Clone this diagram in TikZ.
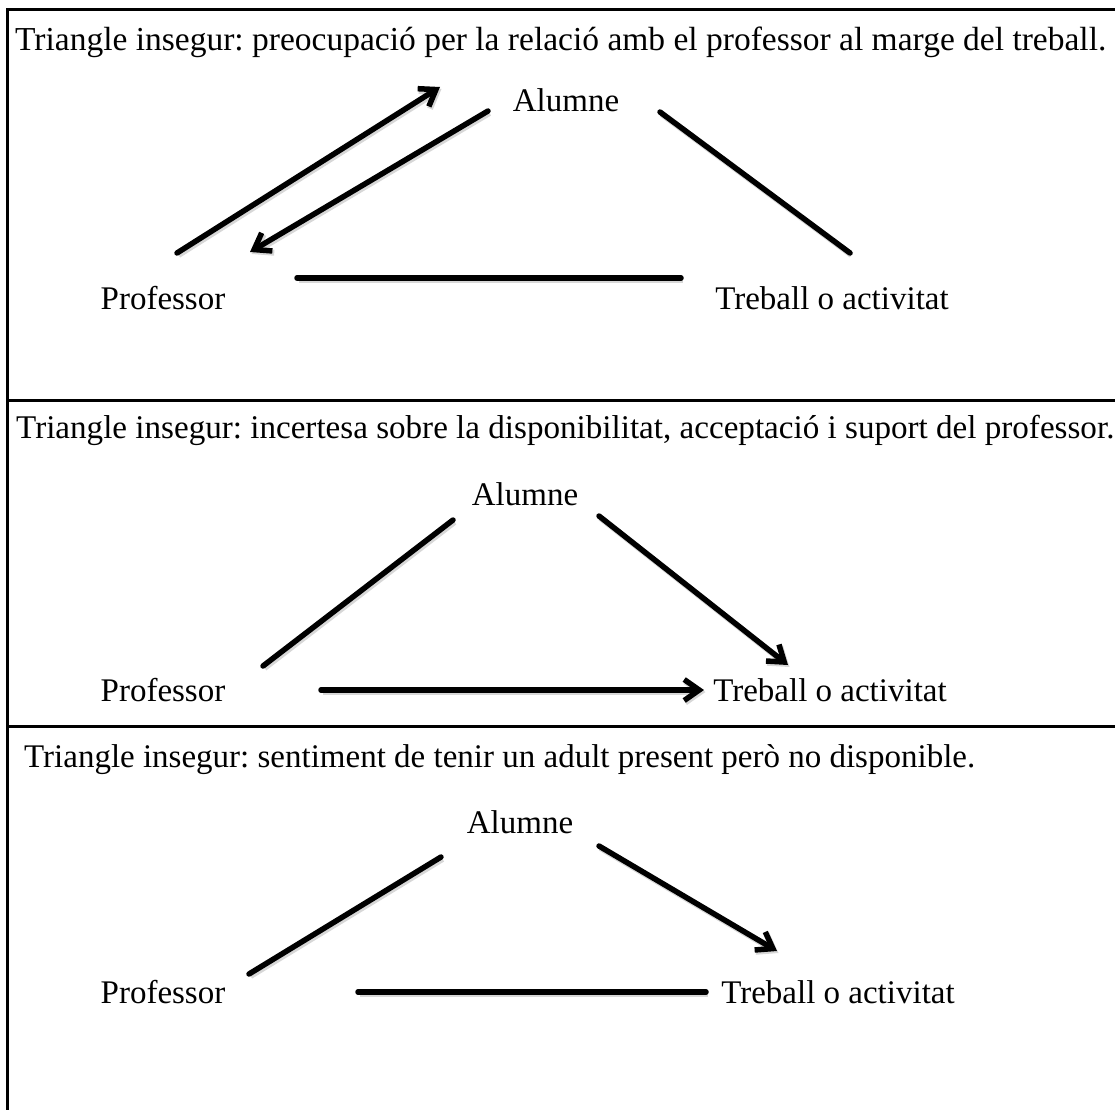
\documentclass[tikz,border=0pt]{standalone}
\usepackage{fontspec}
\setmainfont{Liberation Serif}
\usetikzlibrary{arrows.meta}
\frenchspacing
\begin{document}
\begin{tikzpicture}[x=1pt,y=-1pt,
  rule/.style={line width=3pt},
  link/.style={line width=5.5pt, line cap=round,
    preaction={draw=black!35, opacity=0.45, line width=6pt,
      transform canvas={shift={(1.5pt,-2pt)}}}},
  arrowlink/.style={link, -{Straight Barb[length=15pt,width=21pt]}},
  lbl/.style={font=\fontsize{33}{40}\selectfont, inner sep=0pt},
  heading/.style={lbl, anchor=west}]
\useasboundingbox (0,0) rectangle (1115,1110);

% table rules
\draw[rule] (1115,10) -- (7,10) -- (7,1110);
\draw[rule] (7,400) -- (1115,400);
\draw[rule] (7,726) -- (1115,726);

% ---------- row 1 ----------
\node[heading, font=\fontsize{33.5}{40}\selectfont] (h1) at (15,42) {Triangle insegur: preocupació per la relació amb el professor al marge del treball.};
\node[lbl] (al1) at (566,100) {Alumne};
\node[lbl] (pr1) at (163,298) {Professor};
\node[lbl] (tr1) at (832,298) {Treball o activitat};
\coordinate (p1a) at (177,253); \coordinate (p1b) at (440,87);
\coordinate (p1c) at (488,111); \coordinate (p1d) at (250,252);
\coordinate (p1e) at (660,112); \coordinate (p1f) at (850,253);
\coordinate (p1g) at (297,278); \coordinate (p1h) at (681,278);
\draw[arrowlink] (p1a) -- (p1b);
\draw[arrowlink] (p1c) -- (p1d);
\draw[link] (p1e) -- (p1f);
\draw[link] (p1g) -- (p1h);

% ---------- row 2 ----------
\node[heading, font=\fontsize{33.1}{40}\selectfont] (h2) at (16,430) {Triangle insegur: incertesa sobre la disponibilitat, acceptació i suport del professor.};
\node[lbl] (al2) at (525,494) {Alumne};
\node[lbl] (pr2) at (163,690) {Professor};
\node[lbl] (tr2) at (830,690) {Treball o activitat};
\coordinate (p2a) at (453,520); \coordinate (p2b) at (263,666);
\coordinate (p2c) at (599,516); \coordinate (p2d) at (788,665);
\coordinate (p2e) at (321,690); \coordinate (p2f) at (704,690);
\draw[link] (p2a) -- (p2b);
\draw[arrowlink] (p2c) -- (p2d);
\draw[arrowlink] (p2e) -- (p2f);

% ---------- row 3 ----------
\node[heading] (h3) at (24,760) {Triangle insegur: sentiment de tenir un adult present però no disponible.};
\node[lbl] (al3) at (520,822) {Alumne};
\node[lbl] (pr3) at (163,992) {Professor};
\node[lbl] (tr3) at (838,992) {Treball o activitat};
\coordinate (p3a) at (441,857); \coordinate (p3b) at (249,974);
\coordinate (p3c) at (599,846); \coordinate (p3d) at (777,951);
\coordinate (p3e) at (358,992); \coordinate (p3f) at (706,992);
\draw[link] (p3a) -- (p3b);
\draw[arrowlink] (p3c) -- (p3d);
\draw[link] (p3e) -- (p3f);
\end{tikzpicture}
\end{document}
